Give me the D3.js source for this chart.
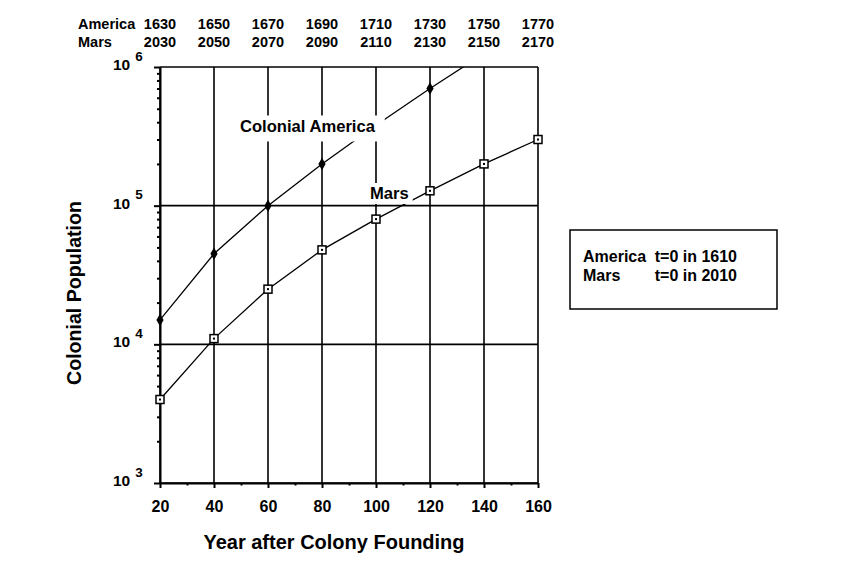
<!DOCTYPE html>
<html>
<head>
<meta charset="utf-8">
<script src="https://cdn.jsdelivr.net/npm/d3@7"></script>
<style>
  body { margin: 0; background: #fff; }
  svg { font-family: "Liberation Sans", Arial, sans-serif; font-weight: bold; }
  .domain, .tick line { stroke: #000; stroke-width: 2; }
</style>
</head>
<body>
<script>
const width = 867;
const height = 564;

// data
const years = [20, 40, 60, 80, 100, 120, 140, 160];
const americaYears = ["1630", "1650", "1670", "1690", "1710", "1730", "1750", "1770"];
const marsYears = ["2030", "2050", "2070", "2090", "2110", "2130", "2150", "2170"];
const americaX = [20, 40, 60, 80, 100, 120, 140];
const americaPop = [15000, 45000, 100000, 200000, 380000, 700000, 1250000];
const marsX = [20, 40, 60, 80, 100, 120, 140, 160];
const marsPop = [4000, 11000, 25000, 48000, 80000, 128000, 200000, 300000];
const decades = [1e3, 1e4, 1e5, 1e6];

const svg = d3.select("body").append("svg")
    .attr("width", width)
    .attr("height", height);

const x = d3.scaleLinear().domain([20, 160]).range([160, 538]);
const y = d3.scaleLog().domain([1e3, 1e6]).range([483, 67]);

// minor ticks
const minorY = [];
decades.slice(0, 3).forEach(function (d) {
    for (let k = 2; k <= 9; k++) minorY.push(d * k);
});
const minorX = d3.range(30, 160, 20);

// grid
svg.append("g").selectAll("line.vg")
    .data(years)
    .enter().append("line")
    .attr("x1", d => x(d)).attr("x2", d => x(d))
    .attr("y1", y(1e6)).attr("y2", y(1e3))
    .attr("stroke", "#000").attr("stroke-width", 1.6);

svg.append("g").selectAll("line.hg")
    .data(decades)
    .enter().append("line")
    .attr("x1", x(20)).attr("x2", x(160))
    .attr("y1", d => y(d)).attr("y2", d => y(d))
    .attr("stroke", "#000").attr("stroke-width", 1.6);

// axes
svg.append("g")
    .attr("transform", "translate(" + x(20) + ",0)")
    .call(d3.axisLeft(y).tickValues(minorY).tickSize(3).tickFormat(""))
    .select(".domain").remove();

const yAx = svg.append("g")
    .attr("transform", "translate(" + x(20) + ",0)")
    .call(d3.axisLeft(y).tickValues(decades).tickSize(6).tickSizeOuter(0).tickFormat(""));

const lab = yAx.selectAll(".tick").append("text")
    .attr("fill", "#000")
    .attr("x", -47)
    .attr("y", 2.5)
    .attr("text-anchor", "start")
    .style("font-size", "15.5px")
    .style("font-family", "'Liberation Sans', Arial, sans-serif");
lab.append("tspan").text("10");
lab.append("tspan").attr("dx", 5).attr("dy", -9.5).style("font-size", "13.5px")
    .text(d => Math.round(Math.log10(d)));

svg.append("g")
    .attr("transform", "translate(0," + y(1e3) + ")")
    .call(d3.axisBottom(x).tickValues(minorX).tickSize(2.5).tickFormat(""))
    .select(".domain").remove();

svg.append("g")
    .attr("transform", "translate(0," + y(1e3) + ")")
    .call(d3.axisBottom(x).tickValues(years).tickSize(5).tickSizeOuter(0))
    .selectAll("text")
    .attr("fill", "#000")
    .attr("y", 29)
    .attr("dy", 0)
    .style("font-size", "16px")
    .style("font-family", "'Liberation Sans', Arial, sans-serif");

// top year labels
const topLab = svg.append("g").style("font-size", "14.5px");
topLab.append("text").attr("x", 78).attr("y", 28.5).text("America");
topLab.append("text").attr("x", 78).attr("y", 46.5).text("Mars");
topLab.selectAll("text.am").data(americaYears).enter().append("text")
    .attr("x", (d, i) => x(years[i])).attr("y", 28.5)
    .attr("text-anchor", "middle").text(d => d);
topLab.selectAll("text.ms").data(marsYears).enter().append("text")
    .attr("x", (d, i) => x(years[i])).attr("y", 46.5)
    .attr("text-anchor", "middle").text(d => d);

// clip to plot area
svg.append("clipPath").attr("id", "plot")
    .append("rect")
    .attr("x", x(20) - 6).attr("y", y(1e6))
    .attr("width", x(160) - x(20) + 12).attr("height", y(1e3) - y(1e6));

const line = d3.line().x(d => x(d[0])).y(d => y(d[1]));
const am = americaX.map((d, i) => [d, americaPop[i]]);
const ms = marsX.map((d, i) => [d, marsPop[i]]);

const body = svg.append("g").attr("clip-path", "url(#plot)");
body.append("path").datum(am).attr("d", line)
    .attr("fill", "none").attr("stroke", "#000").attr("stroke-width", 1.3);
body.append("path").datum(ms).attr("d", line)
    .attr("fill", "none").attr("stroke", "#000").attr("stroke-width", 1.3);

body.selectAll("path.dia").data(am).enter().append("path")
    .attr("d", d3.symbol(d3.symbolDiamond, 45))
    .attr("transform", d => "translate(" + x(d[0]) + "," + y(d[1]) + ")")
    .attr("fill", "#000");

body.selectAll("rect.sq").data(ms).enter().append("rect")
    .attr("x", d => x(d[0]) - 4).attr("y", d => y(d[1]) - 4)
    .attr("width", 8).attr("height", 8)
    .attr("fill", "#fff").attr("stroke", "#000").attr("stroke-width", 1.5);
body.selectAll("rect.dot").data(ms).enter().append("rect")
    .attr("x", d => x(d[0]) - 1).attr("y", d => y(d[1]) - 1)
    .attr("width", 2).attr("height", 2)
    .attr("fill", "#000");

// series labels with white backing
function seriesLabel(tx, ty, str, padR, padB) {
    const g = svg.append("g");
    const t = g.append("text").attr("x", tx).attr("y", ty)
        .style("font-size", "16.6px").text(str);
    const b = t.node().getBBox();
    g.insert("rect", "text")
        .attr("x", b.x - 4).attr("y", b.y - 1)
        .attr("width", b.width + 4 + padR).attr("height", b.height + 1 + padB)
        .attr("fill", "#fff");
}
seriesLabel(240, 131.5, "Colonial America", 9, 6);
seriesLabel(370, 199, "Mars", 4, 1);

// legend box
svg.append("rect")
    .attr("x", 570).attr("y", 230)
    .attr("width", 207).attr("height", 79)
    .attr("fill", "#fff").attr("stroke", "#000").attr("stroke-width", 1.5);
const leg = svg.append("g").style("font-size", "16px");
leg.append("text").attr("x", 583).attr("y", 262).text("America");
leg.append("text").attr("x", 737).attr("y", 262).attr("text-anchor", "end").text("t=0 in 1610");
leg.append("text").attr("x", 583).attr("y", 280.5).text("Mars");
leg.append("text").attr("x", 737).attr("y", 280.5).attr("text-anchor", "end").text("t=0 in 2010");

// axis titles
svg.append("text")
    .attr("x", 334).attr("y", 549)
    .attr("text-anchor", "middle")
    .style("font-size", "20px")
    .text("Year after Colony Founding");

svg.append("text")
    .attr("transform", "translate(81," + 293 + ") rotate(-90)")
    .attr("text-anchor", "middle")
    .style("font-size", "19.6px")
    .text("Colonial Population");
</script>
</body>
</html>
